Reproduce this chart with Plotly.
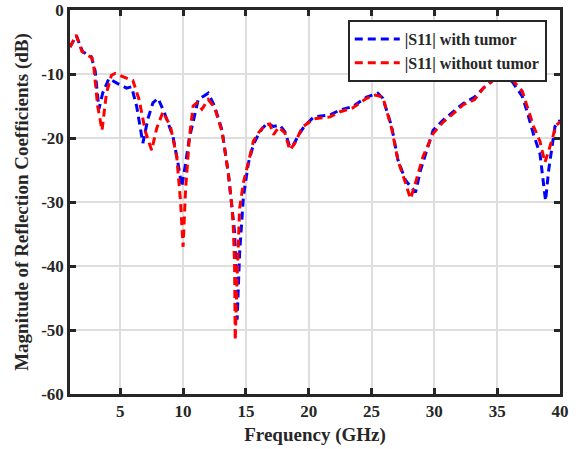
import plotly.graph_objects as go

# |S11| with tumor (blue)
freq_with = [1.0, 1.5, 2.0, 2.7, 3.0, 3.3, 3.6, 4.1, 4.8, 5.5, 5.9, 6.3, 6.8, 7.2, 7.6, 8.0, 8.5,
             9.2, 9.6, 9.9, 10.2, 10.5, 10.8, 11.2, 11.6, 12.0, 12.5, 13.1, 13.6, 13.9, 14.1,
             14.2, 14.3, 14.5, 14.7, 14.8, 15.2, 15.6, 15.9, 16.3, 16.7, 17.2, 17.7, 18.1, 18.5,
             18.8, 19.2, 19.6, 20.4, 21.7, 22.5, 23.5, 24.6, 25.5, 25.9, 26.6, 27.1, 27.7, 28.5,
             28.9, 29.4, 29.9, 30.7, 31.5, 32.3, 33.2, 33.9, 35.0, 35.3, 36.2, 37.0, 37.4, 37.9,
             38.4, 38.7, 38.85, 39.1, 39.4, 39.6, 40.0]
s11_with = [-5.8, -4.0, -6.5, -7.3, -9.5, -15.5, -13.0, -10.7, -11.5, -12.2, -12.0, -15.0, -20.8,
            -17.0, -14.5, -13.8, -16.0, -19.8, -24.0, -27.6, -24.0, -20.0, -17.5, -14.0, -13.5,
            -13.0, -15.0, -18.8, -25.5, -30.8, -34.7, -40.0, -48.4, -38.0, -32.8, -29.2, -23.9,
            -21.0, -19.8, -18.5, -17.7, -18.2, -18.0, -19.0, -21.4, -21.0, -19.5, -18.3, -16.7,
            -16.4, -15.6, -15.1, -13.6, -13.0, -13.8, -18.2, -23.4, -26.6, -28.5, -25.0, -21.9,
            -18.8, -17.2, -15.9, -14.6, -13.6, -12.2, -10.4, -10.2, -11.2, -13.5, -16.0, -19.5,
            -22.4, -27.0, -29.8, -25.0, -20.8, -18.2, -17.2]

# |S11| without tumor (red)
freq_without = [1.0, 1.5, 1.95, 2.75, 2.9, 3.2, 3.55, 3.9, 4.3, 4.6, 5.3, 6.0, 6.5, 7.0, 7.5, 7.9,
                8.4, 9.0, 9.5, 9.8, 10.0, 10.2, 10.5, 10.8, 11.1, 11.5, 12.0, 12.5, 13.1, 13.6,
                13.9, 14.0, 14.1, 14.15, 14.3, 14.5, 14.8, 15.2, 15.6, 16.0, 16.5, 16.9, 17.2,
                17.6, 18.1, 18.5, 18.9, 19.5, 20.4, 21.7, 22.5, 23.5, 24.6, 25.3, 25.9, 26.6,
                27.1, 27.7, 28.1, 28.5, 29.1, 29.9, 30.7, 31.5, 32.3, 33.2, 33.9, 35.2, 36.2,
                37.0, 37.4, 37.9, 38.4, 38.8, 39.1, 39.4, 39.7, 40.0]
s11_without = [-5.8, -3.9, -6.5, -7.5, -9.0, -15.0, -18.8, -13.0, -10.2, -9.9, -10.5, -11.0,
               -14.0, -19.0, -21.9, -18.5, -15.9, -18.2, -23.0, -30.0, -37.0, -28.0, -20.0,
               -15.0, -14.5, -15.5, -14.0, -15.2, -19.0, -25.5, -31.0, -34.0, -40.0, -51.6,
               -42.0, -31.0, -27.0, -23.5, -20.5, -19.2, -18.0, -17.8, -19.5, -18.3, -19.2,
               -21.9, -20.8, -18.3, -17.0, -16.7, -15.9, -15.3, -13.8, -13.3, -13.6, -18.5,
               -23.5, -27.0, -29.5, -27.0, -22.9, -19.3, -17.5, -16.2, -14.8, -14.0, -12.2,
               -10.2, -10.9, -12.7, -15.0, -18.2, -20.5, -23.8, -22.0, -20.0, -18.0, -17.5]

x_ticks = [5, 10, 15, 20, 25, 30, 35, 40]
y_ticks = [-60, -50, -40, -30, -20, -10, 0]

font = "Liberation Serif"

fig = go.Figure()
fig.add_trace(go.Scatter(x=freq_with, y=s11_with, mode="lines", name="<b>|S11| with tumor</b>",
                         line=dict(color="#0000ff", width=3, dash="8px,5px")))
fig.add_trace(go.Scatter(x=freq_without, y=s11_without, mode="lines", name="<b>|S11| without tumor</b>",
                         line=dict(color="#ff0000", width=3, dash="8px,5px")))

axis_common = dict(showline=True, linecolor="#262626", linewidth=2.5, mirror="ticks",
                   ticks="inside", ticklen=6, tickwidth=2.5, tickcolor="#262626",
                   showgrid=True, gridcolor="#dedede", gridwidth=1.5, zeroline=False,
                   automargin=False,
                   tickfont=dict(family=font, size=17, color="#262626"))

fig.update_layout(
    width=581, height=449,
    margin=dict(l=70, r=21, t=10, b=55),
    paper_bgcolor="white", plot_bgcolor="white",
    font=dict(family=font, size=17, color="#262626"),
    xaxis=dict(range=[1, 40], tickvals=x_ticks, ticktext=["<b>%d</b>" % v for v in x_ticks],
               title=dict(text="<b>Frequency (GHz)</b>", font=dict(size=19), standoff=8),
               **axis_common),
    yaxis=dict(range=[-60, 0], tickvals=y_ticks, ticktext=["<b>%d</b>" % v for v in y_ticks],
               title=dict(text="<b>Magnitude of Reflection Coefficients (dB)</b>",
                          font=dict(size=19), standoff=8),
               **axis_common),
    legend=dict(x=0.973, y=0.974, xanchor="right", yanchor="top",
                bgcolor="white", bordercolor="#262626", borderwidth=2,
                font=dict(family=font, size=16, color="#262626"),
                tracegroupgap=0, itemwidth=45),
    showlegend=True,
)

# remove default page margin so the figure sits at the window's corner
fig.write_html("out.html", config={"displayModeBar": False},
               post_script="document.body.style.margin='0px';")
